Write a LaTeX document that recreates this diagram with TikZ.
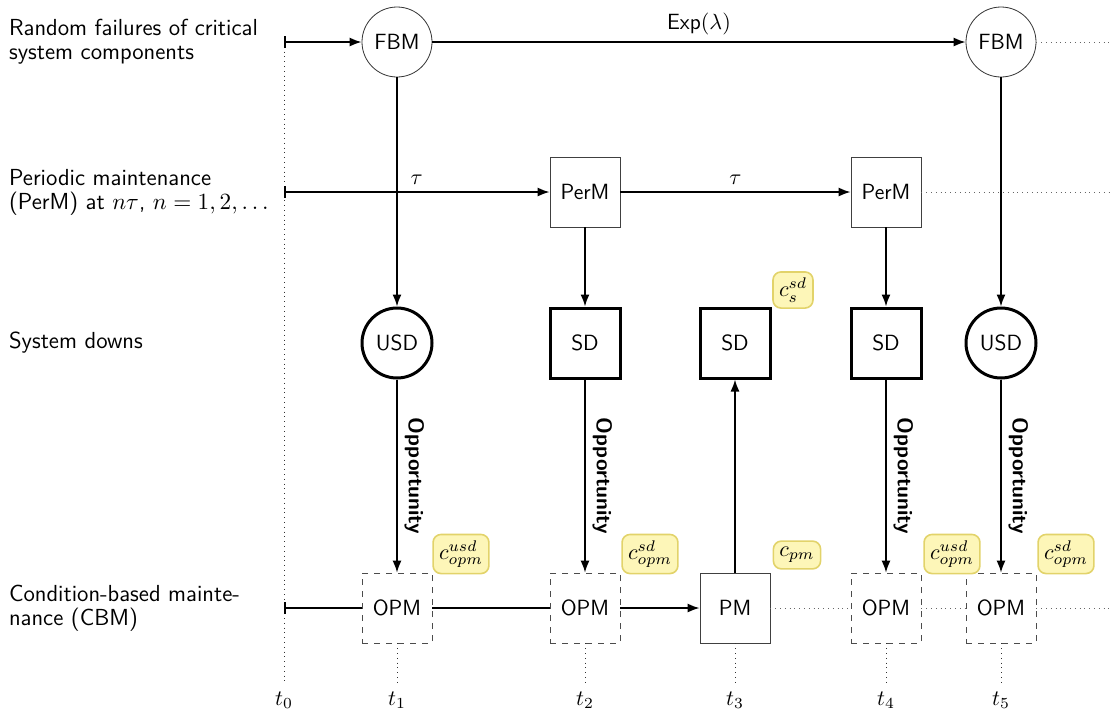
\documentclass[tikz,border=0pt]{standalone}
\usepackage{fontspec}
\usetikzlibrary{arrows.meta}
% scalable Computer Modern math fonts
\DeclareFontShape{OML}{cmm}{m}{it}{<-6>cmmi5<6-7>cmmi6<7-8>cmmi7<8-9>cmmi8<9-10>cmmi9<10-12>cmmi10<12->cmmi12}{}
\DeclareFontShape{OMS}{cmsy}{m}{n}{<-6>cmsy5<6-7>cmsy6<7-8>cmsy7<8-9>cmsy8<9-10>cmsy9<10->cmsy10}{}
\DeclareFontShape{OT1}{cmr}{m}{n}{<-6>cmr5<6-7>cmr6<7-8>cmr7<8-9>cmr8<9-10>cmr9<10-12>cmr10<12->cmr12}{}
\definecolor{costfill}{HTML}{FDF6B8}
\definecolor{costdraw}{HTML}{E2D36A}
\begin{document}
\begin{tikzpicture}[x=0.5pt,y=-0.5pt,font=\sffamily\fontsize{11}{12}\selectfont,
  evt/.style={circle,draw=black!80,minimum size=35pt,inner sep=0pt},
  down/.style={circle,draw,line width=1.5pt,minimum size=35pt,inner sep=0pt},
  sqbox/.style={rectangle,draw=black!75,minimum size=35pt,inner sep=0pt},
  sdbox/.style={rectangle,draw,line width=1.5pt,minimum size=35pt,inner sep=0pt},
  opm/.style={rectangle,draw=black!70,dashed,minimum size=35pt,inner sep=0pt},
  cost/.style={rectangle,rounded corners=4pt,fill=costfill,draw=costdraw,line width=0.8pt,inner sep=3pt},
  flow/.style={thick,-{Latex[length=6pt,width=4.5pt]}},
  startflow/.style={thick,{Bar[width=6pt]}-{Latex[length=6pt,width=4.5pt]}},
  startline/.style={thick,{Bar[width=6pt]}-},
  plain/.style={thick},
  ext/.style={dotted,black!60},
  tick/.style={dotted,black!80},
  opp/.style={midway,sloped,above,font=\sffamily\bfseries\fontsize{10.6}{12}\selectfont},
  rowlabel/.style={anchor=west,align=left,font=\sffamily\fontsize{11.6}{12}\selectfont}]
\useasboundingbox (0,0) rectangle (1110,714);

% row captions
\node[rowlabel] (capA) at (2,42) {Random failures of critical\\system components};
\node[rowlabel] (capB) at (2,192) {Periodic maintenance\\(PerM) at $n\tau$, $n=1,2,\ldots$};
\node[rowlabel] (capC) at (2,343) {System downs};
\node[rowlabel] (capD) at (2,608) {Condition-based mainte-\\nance (CBM)};

% start and end points of the time lines
\coordinate (s1) at (284,42);
\coordinate (s2) at (284,192);
\coordinate (s4) at (284,608);
\coordinate (e1) at (1110,42);
\coordinate (e2) at (1110,192);
\coordinate (e4) at (1110,608);

% events
\node[evt] (fbmA) at (397,42) {FBM};
\node[evt] (fbmB) at (1001,42) {FBM};
\node[sqbox] (permA) at (585,192) {PerM};
\node[sqbox] (permB) at (886,192) {PerM};
\node[down] (usdA) at (397,343) {USD};
\node[sdbox] (sdA) at (585,343) {SD};
\node[sdbox] (sdB) at (735,343) {SD};
\node[sdbox] (sdC) at (886,343) {SD};
\node[down] (usdB) at (1001,343) {USD};
\node[opm] (opmA) at (397,608) {OPM};
\node[opm] (opmB) at (585,608) {OPM};
\node[sqbox] (pm) at (735,608) {PM};
\node[opm] (opmC) at (886,608) {OPM};
\node[opm] (opmD) at (1001,608) {OPM};

% cost tags
\node[cost] (k1) at (461,554) {$c_{opm}^{usd}$};
\node[cost] (k2) at (650,554) {$c_{opm}^{sd}$};
\node[cost] (k3) at (797,555) {$c_{pm}$};
\node[cost] (k4) at (793,290) {$c_{s}^{sd}$};
\node[cost] (k5) at (952,554) {$c_{opm}^{usd}$};
\node[cost] (k6) at (1066,554) {$c_{opm}^{sd}$};

% time marks
\node (lt0) at (284,700) {$t_0$};
\node (lt1) at (397,700) {$t_1$};
\node (lt2) at (585,700) {$t_2$};
\node (lt3) at (735,700) {$t_3$};
\node (lt4) at (886,700) {$t_4$};
\node (lt5) at (1001,700) {$t_5$};
\draw[tick] (s1) -- (lt0.north);
\draw[tick] (opmA.south) -- (lt1.north);
\draw[tick] (opmB.south) -- (lt2.north);
\draw[tick] (pm.south) -- (lt3.north);
\draw[tick] (opmC.south) -- (lt4.north);
\draw[tick] (opmD.south) -- (lt5.north);

% failures
\draw[startflow] (s1) -- (fbmA);
\draw[flow] (fbmA) -- node[above] {Exp$(\lambda)$} (fbmB);
\draw[ext] (fbmB) -- (e1);

% periodic maintenance
\draw[startflow] (s2) -- node[above] {$\tau$} (permA);
\draw[flow] (permA) -- node[above] {$\tau$} (permB);
\draw[ext] (permB) -- (e2);

% downs caused by failures and periodic maintenance
\draw[flow] (fbmA) -- (usdA);
\draw[flow] (permA) -- (sdA);
\draw[flow] (permB) -- (sdC);
\draw[flow] (fbmB) -- (usdB);
\draw[flow] (pm) -- (sdB);

% opportunities
\draw[flow] (usdA) -- node[opp] {Opportunity} (opmA);
\draw[flow] (sdA) -- node[opp] {Opportunity} (opmB);
\draw[flow] (sdC) -- node[opp] {Opportunity} (opmC);
\draw[flow] (usdB) -- node[opp] {Opportunity} (opmD);

% condition-based maintenance
\draw[startline] (s4) -- (opmA);
\draw[plain] (opmA) -- (opmB);
\draw[flow] (opmB) -- (pm);
\draw[ext] (pm) -- (opmC);
\draw[ext] (opmC) -- (opmD);
\draw[ext] (opmD) -- (e4);
\end{tikzpicture}
\end{document}
